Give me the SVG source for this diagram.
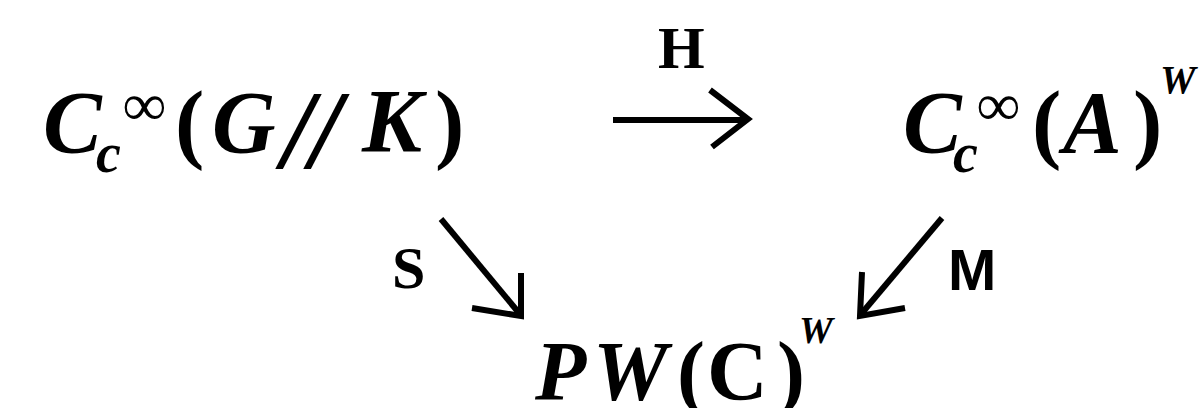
<svg xmlns="http://www.w3.org/2000/svg" width="1200" height="408" viewBox="0 0 1200 408">
<style>
.m{font-family:"Liberation Serif",serif;font-weight:bold;font-style:italic;fill:#000}
.u{font-family:"Liberation Serif",serif;font-weight:bold;font-style:normal;fill:#000}
.lbl{font-family:"Liberation Serif",serif;font-weight:bold;fill:#000}
.ar{fill:none;stroke:#000;stroke-width:6;stroke-linecap:butt;stroke-linejoin:miter}
</style>
<rect width="1200" height="408" fill="#fff"/>
<g id="node-left">
<text class="m" font-size="88" x="43" y="152">C</text>
<text class="m" font-size="56" x="96" y="172">c</text>
<text class="u" font-size="60" x="123" y="125">∞</text>
<text class="u" font-size="88" x="175" y="152">(</text>
<text class="m" font-size="88" x="212" y="152">G</text>
<text class="m" font-size="112" x="282" y="168">/</text>
<text class="m" font-size="112" x="310" y="168">/</text>
<text class="m" font-size="90" x="362" y="152">K</text>
<text class="u" font-size="88" x="435" y="152">)</text>
</g>
<g id="node-right">
<text class="m" font-size="88" x="903" y="152">C</text>
<text class="m" font-size="56" x="953" y="172">c</text>
<text class="u" font-size="60" x="977" y="125">∞</text>
<text class="u" font-size="88" x="1032" y="152">(</text>
<text class="m" font-size="88" x="1063" y="152">A</text>
<text class="u" font-size="88" x="1133" y="152">)</text>
<text class="m" font-size="40" x="1160" y="93">W</text>
</g>
<g id="node-bottom">
<text class="m" font-size="84" x="535" y="400">P</text>
<text class="m" font-size="84" x="593" y="400">W</text>
<text class="u" font-size="84" x="677" y="400">(</text>
<text class="u" font-size="84" x="707" y="400">C</text>
<text class="u" font-size="84" x="777" y="400">)</text>
<text class="m" font-size="38" x="799" y="343">W</text>
</g>
<g id="connectors">
<path class="ar" d="M613,120 L746,120"/>
<path class="ar" d="M710,90 L748,119 L712,147"/>
<path class="ar" d="M441,219 L519,313"/>
<path class="ar" d="M472,308 L521,316 L521,273"/>
<path class="ar" d="M942,218 L862,313"/>
<path class="ar" d="M905,308 L860,316 L862,272"/>
</g>
<g id="labels">
<text class="lbl" font-size="60" x="658" y="68">H</text>
<text class="lbl" font-size="60" x="392" y="288">S</text>
<text font-family="Liberation Sans,sans-serif" font-weight="bold" font-size="58" x="948" y="290">M</text>
</g>
</svg>
